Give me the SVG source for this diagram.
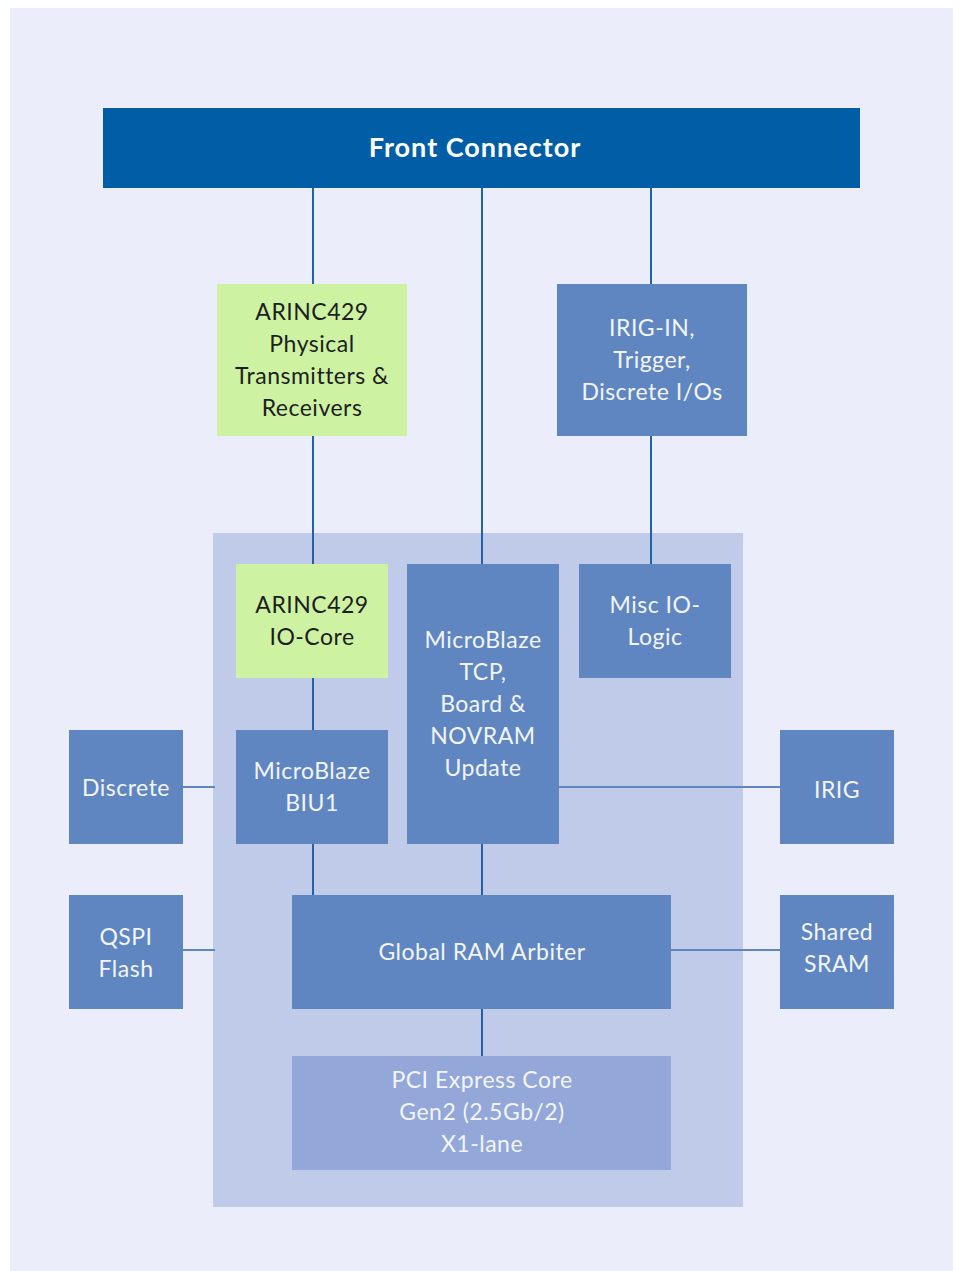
<svg xmlns="http://www.w3.org/2000/svg" width="960" height="1271" viewBox="0 0 960 1271">
<style>
.box{fill:#5F86C0}
.grn{fill:#CDF2A2}
.t{font-family:Lato,"Liberation Sans",sans-serif;font-size:23px;letter-spacing:0.5px;text-anchor:middle;fill:#F2F5FF}
.d{fill:#1E1E1E}
.vc{stroke:#1F63AD;stroke-width:2;fill:none}
.hc{stroke:#5F86C0;stroke-width:2;fill:none}
</style>
<rect x="10" y="8" width="943" height="1263" fill="#EBEDFA"/>
<rect id="fpga" x="213" y="533" width="530" height="674" fill="#C0CBEA"/>
<g id="connectors">
<line class="vc" x1="313" y1="188" x2="313" y2="284"/>
<line class="vc" x1="313" y1="436" x2="313" y2="564"/>
<line class="vc" x1="313" y1="678" x2="313" y2="730"/>
<line class="vc" x1="313" y1="844" x2="313" y2="895"/>
<line class="vc" x1="482" y1="188" x2="482" y2="564"/>
<line class="vc" x1="482" y1="844" x2="482" y2="895"/>
<line class="vc" x1="482" y1="1009" x2="482" y2="1056"/>
<line class="vc" x1="651" y1="188" x2="651" y2="284"/>
<line class="vc" x1="651" y1="436" x2="651" y2="564"/>
<line class="hc" x1="183" y1="787" x2="215" y2="787"/>
<line class="hc" x1="183" y1="950" x2="215" y2="950"/>
<line class="hc" x1="559" y1="787" x2="780" y2="787"/>
<line class="hc" x1="671" y1="950" x2="780" y2="950"/>
</g>
<g id="front-connector">
<rect x="103" y="108" width="757" height="80" fill="#005DA6"/>
<text x="475" y="157" style="font-family:Lato,'Liberation Sans',sans-serif;font-size:27px;letter-spacing:1px;font-weight:bold;text-anchor:middle;fill:#FFFFFF">Front Connector</text>
</g>
<g id="arinc-phys">
<rect class="grn" x="217" y="284" width="190" height="152"/>
<text class="t d" x="312" y="320">ARINC429</text>
<text class="t d" x="312" y="352">Physical</text>
<text class="t d" x="312" y="384">Transmitters &amp;</text>
<text class="t d" x="312" y="416">Receivers</text>
</g>
<g id="irig-in">
<rect class="box" x="557" y="284" width="190" height="152"/>
<text class="t" x="652" y="336">IRIG-IN,</text>
<text class="t" x="652" y="368">Trigger,</text>
<text class="t" x="652" y="400">Discrete I/Os</text>
</g>
<g id="arinc-core">
<rect class="grn" x="236" y="564" width="152" height="114"/>
<text class="t d" x="312" y="613">ARINC429</text>
<text class="t d" x="312" y="645">IO-Core</text>
</g>
<g id="mb-tcp">
<rect class="box" x="407" y="564" width="152" height="280"/>
<text class="t" x="483" y="648">MicroBlaze</text>
<text class="t" x="483" y="680">TCP,</text>
<text class="t" x="483" y="712">Board &amp;</text>
<text class="t" x="483" y="744">NOVRAM</text>
<text class="t" x="483" y="776">Update</text>
</g>
<g id="misc-io">
<rect class="box" x="579" y="564" width="152" height="114"/>
<text class="t" x="655" y="613">Misc IO-</text>
<text class="t" x="655" y="645">Logic</text>
</g>
<g id="discrete">
<rect class="box" x="69" y="730" width="114" height="114"/>
<text class="t" x="126" y="796">Discrete</text>
</g>
<g id="mb-biu1">
<rect class="box" x="236" y="730" width="152" height="114"/>
<text class="t" x="312" y="779">MicroBlaze</text>
<text class="t" x="312" y="811">BIU1</text>
</g>
<g id="irig">
<rect class="box" x="780" y="730" width="114" height="114"/>
<text class="t" x="837" y="798">IRIG</text>
</g>
<g id="qspi">
<rect class="box" x="69" y="895" width="114" height="114"/>
<text class="t" x="126" y="945">QSPI</text>
<text class="t" x="126" y="977">Flash</text>
</g>
<g id="global-ram">
<rect class="box" x="292" y="895" width="379" height="114"/>
<text class="t" x="482" y="960">Global RAM Arbiter</text>
</g>
<g id="shared-sram">
<rect class="box" x="780" y="895" width="114" height="114"/>
<text class="t" x="837" y="940">Shared</text>
<text class="t" x="837" y="972">SRAM</text>
</g>
<g id="pcie">
<rect x="292" y="1056" width="379" height="114" fill="#93A7D8"/>
<text class="t" x="482" y="1088">PCI Express Core</text>
<text class="t" x="482" y="1120">Gen2 (2.5Gb/2)</text>
<text class="t" x="482" y="1152">X1-lane</text>
</g>
</svg>
